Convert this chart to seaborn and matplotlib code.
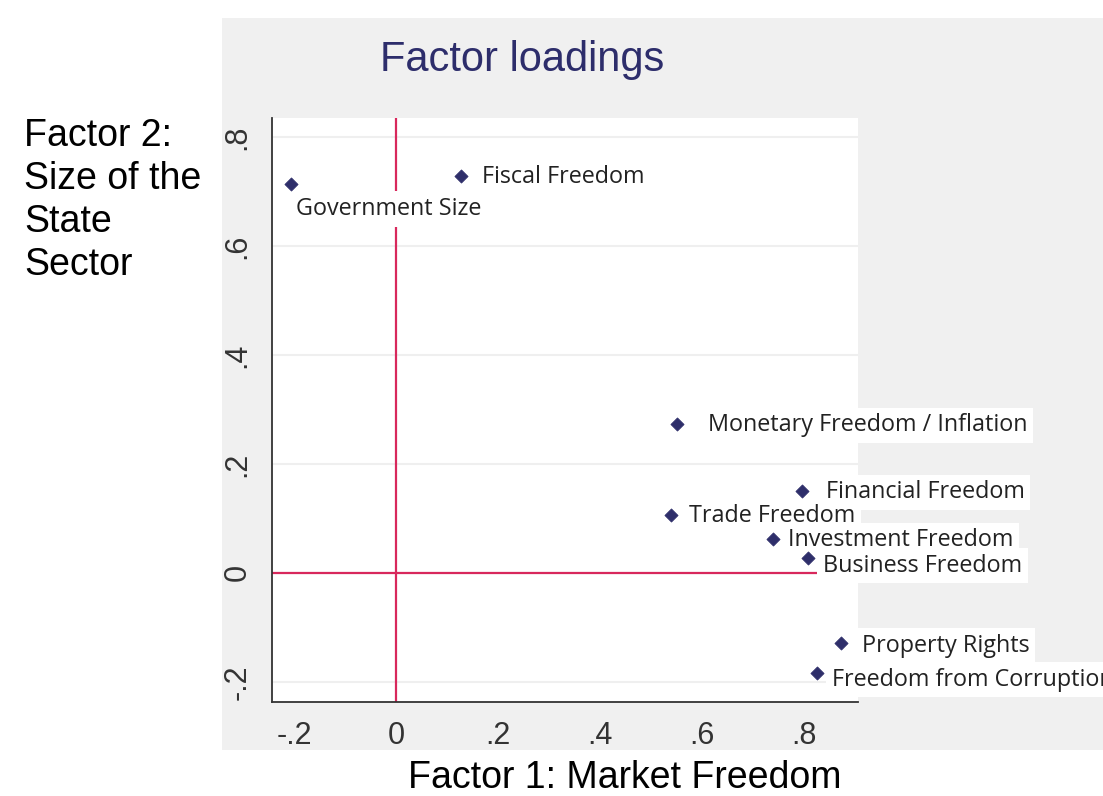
import numpy as np
import pandas as pd
import matplotlib
matplotlib.use("Agg")
import matplotlib.pyplot as plt
import seaborn as sns
from matplotlib.patches import Rectangle

# ==========================
# Données
# ==========================
variables = [
    "Government Size", "Fiscal Freedom", "Monetary Freedom / Inflation",
    "Financial Freedom", "Trade Freedom", "Investment Freedom",
    "Business Freedom", "Property Rights", "Freedom from Corruption",
]
factor1 = [-0.206, 0.127, 0.551, 0.796, 0.539, 0.739, 0.808, 0.873, 0.825]
factor2 = [0.714, 0.728, 0.273, 0.150, 0.106, 0.062, 0.028, -0.128, -0.183]

x_ticks = [-0.2, 0.0, 0.2, 0.4, 0.6, 0.8]
x_tick_labels = ["-.2", "0", ".2", ".4", ".6", ".8"]
y_ticks = [-0.2, 0.0, 0.2, 0.4, 0.6, 0.8]
y_tick_labels = ["-.2", "0", ".2", ".4", ".6", ".8"]

df = pd.DataFrame({"variable": variables, "f1": factor1, "f2": factor2})

# décalage des étiquettes (pixels)
label_offsets = [(5, -25), (21, -1), (31, -1), (24, -1), (18, -1),
                 (15, -1), (15, -8), (21, -3), (15, -7)]

# ==========================
# Figure
# ==========================
sns.set_style("white")
plt.rcParams["font.family"] = ["Liberation Sans", "DejaVu Sans"]

fig = plt.figure(figsize=(11.03, 7.96), dpi=100)
fig.patches.append(Rectangle((222 / 1103, 46 / 796), 881 / 1103, 732 / 796,
                             transform=fig.transFigure, facecolor="#f0f0f0",
                             edgecolor="none", zorder=-5))

ax = fig.add_axes([272 / 1103, 94 / 796, 586 / 1103, 584 / 796])
ax.set_zorder(2)
ax.set_facecolor("white")

ax.axvline(0, color="#d8285c", lw=1.6, zorder=1)
ax.axhline(0, color="#d8285c", lw=1.6, zorder=1)

sns.scatterplot(data=df, x="f1", y="f2", ax=ax, marker="D", s=45,
                color="#2e2e6a", edgecolor="#2e2e6a", zorder=4)

for (name, x, y), (dx, dy) in zip(zip(variables, factor1, factor2), label_offsets):
    ax.annotate(name, (x, y), xytext=(dx, dy), textcoords="offset pixels",
                ha="left", va="center", fontsize=16.8, family="Open Sans",
                color="#222222", zorder=3, annotation_clip=False,
                bbox=dict(facecolor="white", edgecolor="none", pad=4))

ax.set_xlim(-0.243, 0.906)
ax.set_ylim(-0.237, 0.835)
ax.set_xticks(x_ticks)
ax.set_xticklabels(x_tick_labels)
ax.set_yticks(y_ticks)
ax.set_yticklabels(y_tick_labels, rotation=90, va="center")
ax.yaxis.grid(True, color="#efefef", lw=1.5)
ax.set_axisbelow(True)
ax.tick_params(axis="both", direction="out", length=7, width=1.2,
               color="#333333", labelsize=22, labelcolor="#333333", pad=7)
for side in ["top", "right"]:
    ax.spines[side].set_visible(False)
for side in ["left", "bottom"]:
    ax.spines[side].set_color("#333333")
    ax.spines[side].set_linewidth(1.3)
ax.set_xlabel("")
ax.set_ylabel("")

fig.text(522 / 1103, 1 - 60 / 796, "Factor loadings", ha="center", va="center",
         fontsize=30, color="#2d2d6b")
fig.text(625 / 1103, 1 - 778 / 796, "Factor 1: Market Freedom", ha="center",
         va="center", fontsize=27, color="black")
fig.text(24 / 1103, 1 - 118 / 796, "Factor 2:\nSize of the\nState\nSector",
         ha="left", va="top", fontsize=27, color="black", linespacing=1.25)

plt.savefig("out.png", dpi=100)
